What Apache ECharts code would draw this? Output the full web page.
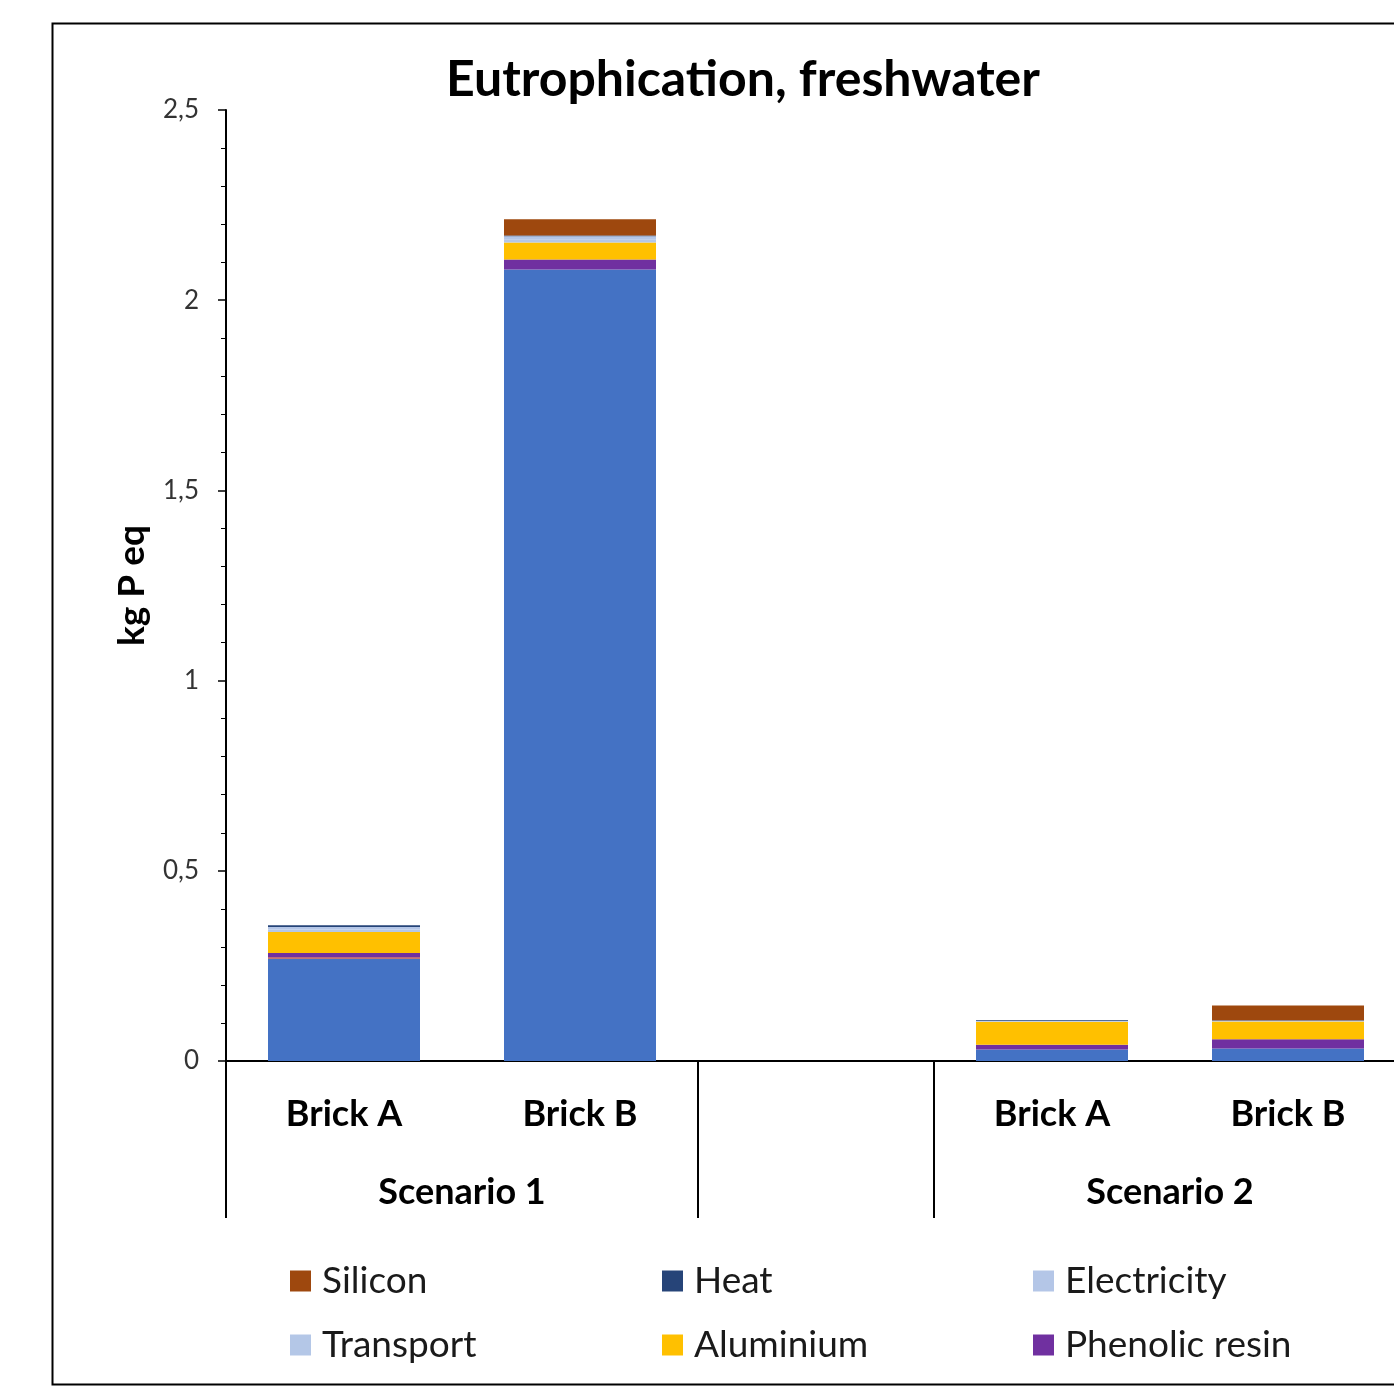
<!DOCTYPE html>
<html>
<head>
<meta charset="utf-8">
<script src="https://cdn.jsdelivr.net/npm/echarts@6/dist/echarts.min.js"></script>
<style>
  html, body { margin: 0; padding: 0; background: #fff; overflow: hidden; }
  /* the plot runs past the right edge of the window, so the canvas is wider than the page */
  #chart { width: 1420px; height: 1386px; }
</style>
</head>
<body>
<div id="chart"></div>
<script>
// Categories along the bottom axis (the blank slot separates the two scenarios)
const categories = ['Brick A', 'Brick B', '', 'Brick A', 'Brick B'];
const scenarios = ['Scenario 1', 'Scenario 2'];
const yTicks = [0, 0.5, 1, 1.5, 2, 2.5];

// Contributions, kg P eq (stacked bottom to top)
const clay          = [0.269, 2.081, null, 0.030, 0.033];
const other         = [0.004, 0.000, null, 0.000, 0.000];
const phenolicResin = [0.011, 0.026, null, 0.013, 0.024];
const aluminium     = [0.055, 0.045, null, 0.060, 0.047];
const transport     = [0.007, 0.008, null, 0.002, 0.001];
const electricity   = [0.006, 0.008, null, 0.001, 0.001];
const heat          = [0.005, 0.002, null, 0.002, 0.001];
const silicon       = [0.000, 0.043, null, 0.000, 0.039];

const FONT = 'Lato';
const chart = echarts.init(document.getElementById('chart'), null, { renderer: 'canvas' });

function bar(name, data, color) {
  return {
    name: name, type: 'bar', stack: 'total', data: data,
    xAxisIndex: 0, yAxisIndex: 0,
    barWidth: 152,
    itemStyle: { color: color },
    emphasis: { disabled: true }
  };
}

// One legend block per entry so the entries sit on a fixed grid
const legendLayout = [
  ['Silicon', 290, 1261], ['Heat', 662, 1261], ['Electricity', 1033, 1261],
  ['Transport', 290, 1325], ['Aluminium', 662, 1325], ['Phenolic resin', 1033, 1325]
];
const legends = legendLayout.map(([name, x, y]) => ({
  data: [name], left: x, top: y, padding: 0,
  orient: 'horizontal', icon: 'rect',
  itemWidth: 21, itemHeight: 21,
  selectedMode: false,
  textStyle: { fontFamily: FONT, fontSize: 37, color: '#1a1a1a', lineHeight: 40, padding: [0, 0, 0, 6] }
}));

const option = {
  animation: false,
  backgroundColor: '#fff',
  legend: legends,
  grid: { left: 226, top: 110, width: 1180, bottom: 325, containLabel: false },
  xAxis: [
    {
      type: 'category', data: categories, position: 'bottom',
      axisLine: { show: true, lineStyle: { color: '#000', width: 2 } },
      axisTick: { show: false },
      axisLabel: { fontFamily: FONT, fontWeight: 'bold', fontSize: 36, color: '#000', margin: 33, lineHeight: 40, interval: 0 }
    },
    {
      // group separators and scenario names
      type: 'value', min: 0, max: categories.length, position: 'bottom',
      axisLine: { show: false },
      splitLine: { show: false },
      axisTick: { show: true, customValues: [0, 2, 3, 5], length: 157, inside: false, lineStyle: { color: '#000', width: 2 } },
      axisLabel: {
        show: true, customValues: [1, 4],
        formatter: v => (v === 1 ? scenarios[0] : scenarios[1]),
        fontFamily: FONT, fontWeight: 'bold', fontSize: 36, color: '#000', margin: 111, lineHeight: 40
      }
    }
  ],
  yAxis: {
    type: 'value', min: yTicks[0], max: yTicks[yTicks.length - 1], interval: 0.5,
    name: 'kg P eq', nameLocation: 'middle', nameRotate: 90, nameGap: 75,
    nameTextStyle: { fontFamily: FONT, fontWeight: 'bold', fontSize: 37, color: '#000' },
    axisLine: { show: true, lineStyle: { color: '#000', width: 2 } },
    axisTick: { show: true, length: 8, inside: false, lineStyle: { color: '#000', width: 1.5 } },
    minorTick: { show: true, splitNumber: 5, length: 5, lineStyle: { color: '#000', width: 1 } },
    splitLine: { show: false },
    axisLabel: {
      fontFamily: FONT, fontSize: 26, color: '#333', margin: 27,
      formatter: v => String(v).replace('.', ',')
    }
  },
  graphic: [
    {
      type: 'rect', silent: true,
      shape: { x: 52.5, y: 23.5, width: 1400, height: 1361 },
      style: { fill: 'none', stroke: '#000', lineWidth: 2 }
    },
    {
      // chart title, centred over the framed area
      type: 'text', silent: true, x: 743, y: 80,
      style: {
        text: 'Eutrophication, freshwater',
        font: 'bold 50px ' + FONT, fill: '#000',
        textAlign: 'center', textVerticalAlign: 'middle'
      }
    }
  ],
  series: [
    bar('Clay', clay, '#4472C4'),
    bar('Other', other, '#C0504D'),
    bar('Phenolic resin', phenolicResin, '#7030A0'),
    bar('Aluminium', aluminium, '#FFC000'),
    bar('Transport', transport, '#B4C7E7'),
    bar('Electricity', electricity, '#B4C6E7'),
    bar('Heat', heat, '#264478'),
    bar('Silicon', silicon, '#9E480E')
  ]
};
chart.setOption(option);
</script>
</body>
</html>
